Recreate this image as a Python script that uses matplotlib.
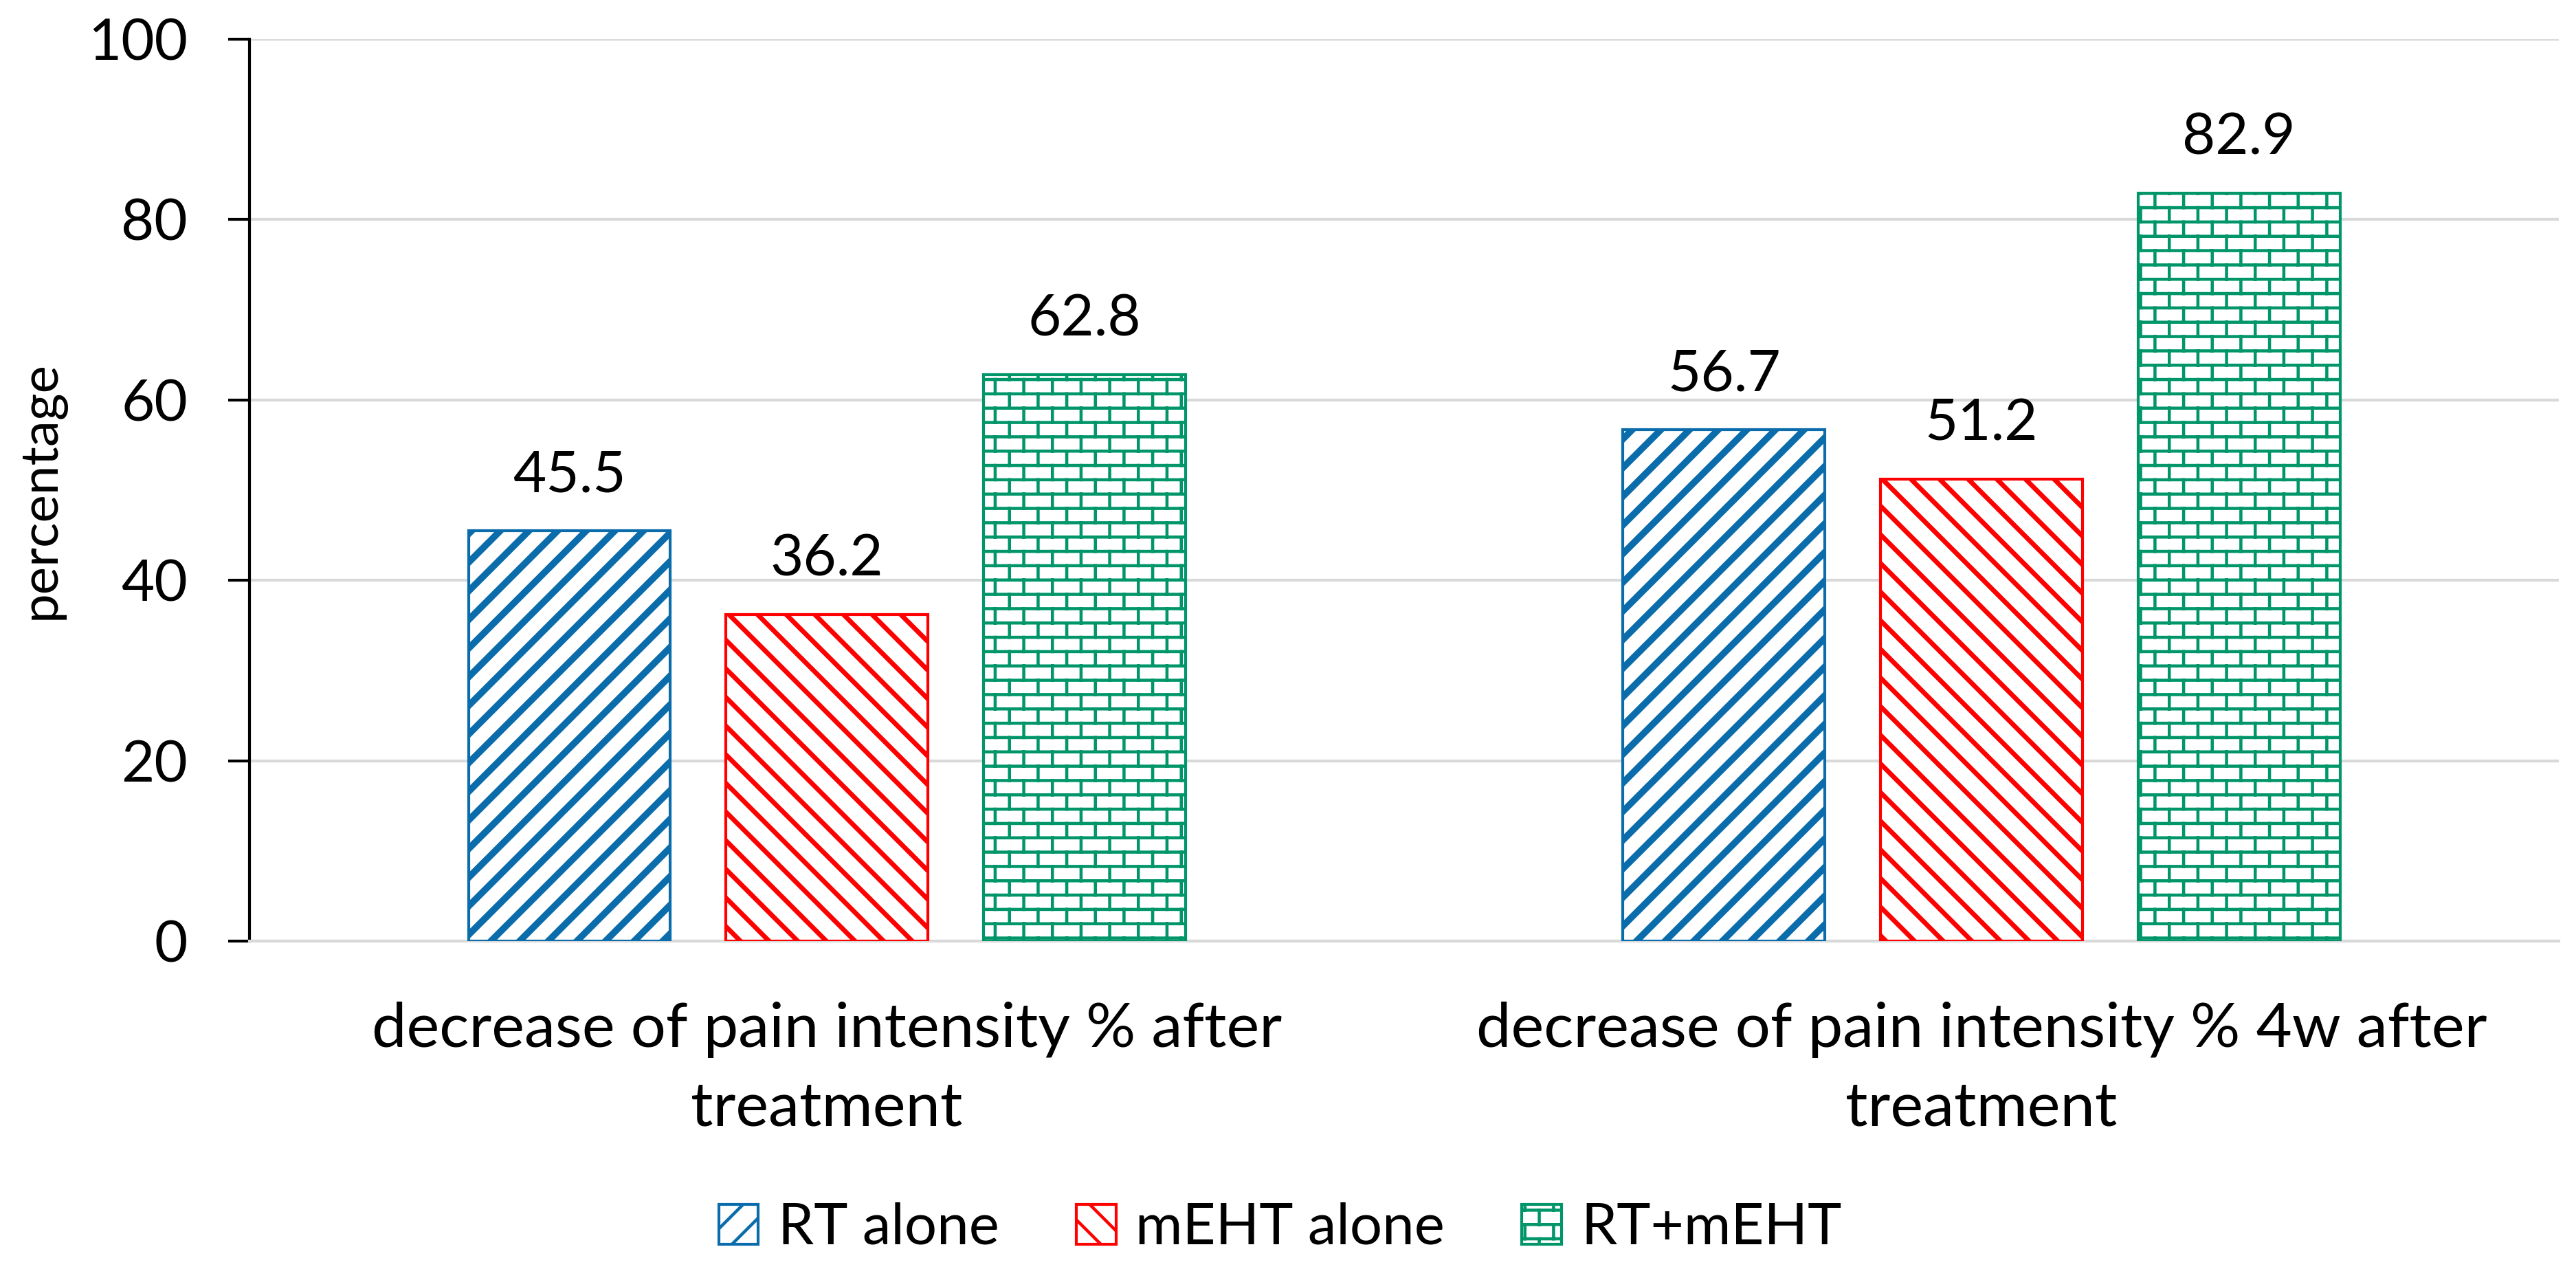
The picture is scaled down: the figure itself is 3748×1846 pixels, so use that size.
import warnings
import numpy as np
import matplotlib
matplotlib.use('Agg')
import matplotlib.pyplot as plt
import matplotlib.transforms as mtransforms
from matplotlib import hatch as mhatch
from matplotlib.path import Path

warnings.filterwarnings('ignore')

categories = [['decrease of pain intensity % after', 'treatment'],
              ['decrease of pain intensity % 4w after', 'treatment']]
series_names = ['RT alone', 'mEHT alone', 'RT+mEHT']
rt_alone = [45.5, 56.7]
meht_alone = [36.2, 51.2]
rt_meht = [62.8, 82.9]
y_ticks = [0, 20, 40, 60, 80, 100]


class BrickHatch(mhatch.HatchPatternBase):
    """Brick wall hatch, selected with the letter 'b'."""
    def __init__(self, hatch, density):
        self.rows = 12 if 'b' in hatch else 0
        self.cols = 6
        self.num_lines = self.rows + (self.rows + 1) * self.cols if self.rows else 0
        self.num_vertices = self.num_lines * 2

    def set_vertices_and_codes(self, vertices, codes):
        k = 0
        for i in range(self.rows):
            y = (i + 0.5) / self.rows
            vertices[k] = (0.0, y)
            vertices[k + 1] = (1.0, y)
            k += 2
        for i in range(self.rows + 1):
            y0 = (i - 0.5) / self.rows
            y1 = (i + 0.5) / self.rows
            for j in range(self.cols):
                x = (j + 0.25 + 0.5 * (i % 2)) / self.cols
                vertices[k] = (x, y0)
                vertices[k + 1] = (x, y1)
                k += 2
        codes[0::2] = Path.MOVETO
        codes[1::2] = Path.LINETO


mhatch._hatch_types.append(BrickHatch)

plt.rcParams['font.family'] = ['Lato', 'DejaVu Sans']

fig = plt.figure(figsize=(3748 / 250, 1846 / 250), dpi=250)
ax = fig.add_axes([0.0969, 0.2584, 0.9933 - 0.0969, 0.9691 - 0.2584])

x = np.arange(len(categories))
width = 0.175
step = 0.223
styles = [
    (rt_alone, '#0A6CAB', '//', 2.8),
    (meht_alone, '#FF0000', '\\\\', 2.0),
    (rt_meht, '#00966A', 'b', 1.3),
]

for i, (vals, color, hatch, hlw) in enumerate(styles):
    plt.rcParams['hatch.linewidth'] = hlw
    bars = ax.bar(x + (i - 1) * step, vals, width, facecolor='white',
                  edgecolor=color, hatch=hatch, linewidth=1.2,
                  label=series_names[i], zorder=3)
    for b, v in zip(bars, vals):
        ax.annotate(f'{v:.1f}', (b.get_x() + b.get_width() / 2, v),
                    xytext=(0, 12), textcoords='offset points',
                    ha='center', va='bottom', fontsize=24, color='#000000')

ax.set_xlim(-0.5, 1.5)
ax.set_ylim(0, 100)
ax.set_yticks(y_ticks)
ax.set_xticks(x)
ax.set_xticklabels([])
ax.tick_params(axis='x', length=0)
ax.tick_params(axis='y', labelsize=24, length=9, width=1.2, pad=17, direction='out')

# wrapped category labels, one text per line
trans = mtransforms.blended_transform_factory(ax.transData, ax.transAxes)
for xi, lines in zip(x, categories):
    for li, line in enumerate(lines):
        ax.text(xi, -0.1174 - 0.0876 * li, line, transform=trans,
                ha='center', va='baseline', fontsize=26)

ax.grid(axis='y', color='#D9D9D9', linewidth=1.2, zorder=0)
ax.set_axisbelow(True)
for s in ['top', 'right']:
    ax.spines[s].set_visible(False)
ax.spines['bottom'].set_color('#D9D9D9')
ax.spines['bottom'].set_linewidth(1.2)
ax.spines['left'].set_linewidth(1.2)
ax.set_ylabel('percentage', fontsize=22)
ax.yaxis.set_label_coords(-0.08, 0.5)

fig.legend(loc='center', bbox_to_anchor=(0.497, 0.032), ncol=3, frameon=False,
           fontsize=24, handlelength=0.69, handleheight=0.69, handletextpad=0.34,
           columnspacing=1.35)

fig.savefig('out.png', dpi=250)
